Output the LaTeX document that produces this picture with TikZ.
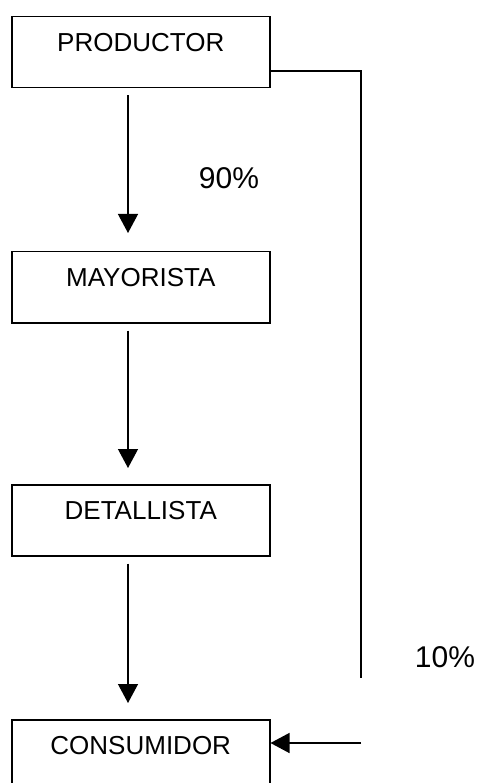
\documentclass[tikz,border=0pt]{standalone}
\usepackage{fontspec}
\setmainfont{Liberation Sans}
\usetikzlibrary{arrows.meta}
\begin{document}
\begin{tikzpicture}[x=1pt,y=-1pt,
  boxnode/.style={draw,line width=1.5pt,rectangle,inner sep=0pt,anchor=north west,
    minimum width=258pt,text height=35pt,text depth=36pt,font=\fontsize{26pt}{30pt}\selectfont},
  pct/.style={anchor=base,inner sep=0pt,font=\fontsize{30pt}{34pt}\selectfont},
  conn/.style={line width=1.3pt},
  arr/.style={conn,-{Triangle[width=20pt,length=19pt]}}]
\useasboundingbox (0,0) rectangle (479,783);
\node[boxnode] (P) at (11,15.7) {PRODUCTOR};
\node[boxnode] (M) at (11,251) {MAYORISTA};
\node[boxnode] (D) at (11,484) {DETALLISTA};
\node[boxnode] (C) at (11,719) {CONSUMIDOR};
\node[pct] (p90) at (229,189) {90\%};
\node[pct] (p10) at (445,667) {10\%};
\draw[arr] ([xshift=117pt,yshift=-7pt]P.south west) -- ([xshift=117pt,yshift=18pt]M.north west);
\draw[arr] ([xshift=117pt,yshift=-7pt]M.south west) -- ([xshift=117pt,yshift=16pt]D.north west);
\draw[arr] ([xshift=117pt,yshift=-7pt]D.south west) -- ([xshift=117pt,yshift=16pt]C.north west);
\coordinate (r1) at (361,678);
\coordinate (r2) at (361,743);
\draw[conn] ([yshift=-19pt]P.east) -| (r1);
\draw[arr] (r2) -- (r2 -| C.east);
\end{tikzpicture}
\end{document}
